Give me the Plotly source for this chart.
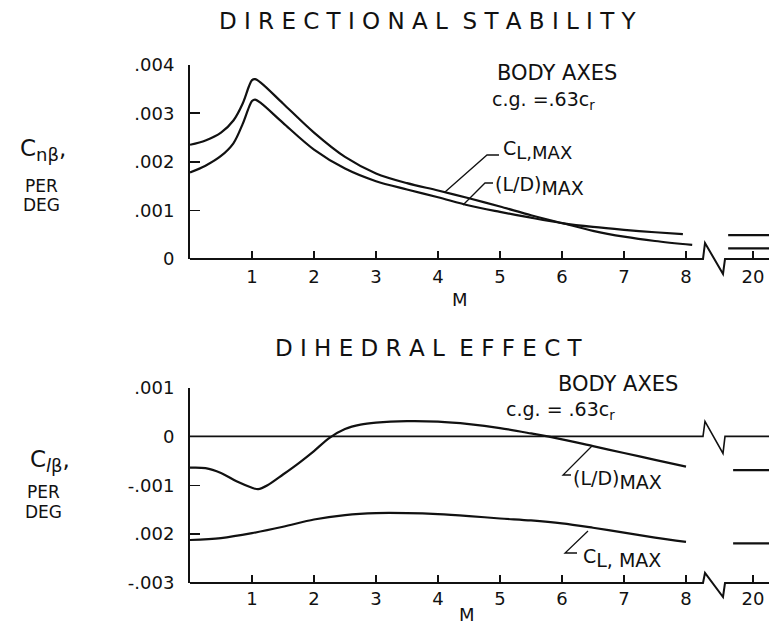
import plotly.graph_objects as go

# ---------------- data ----------------
# Top panel: directional stability, Cn_beta per deg vs Mach number
m_top_cl = [0, 0.25, 0.5, 0.7, 0.85, 0.95, 1.0, 1.05, 1.15, 1.5, 2.0, 2.5, 3.0, 3.5, 4.0, 4.5, 5.0, 5.5, 6.0, 6.5, 7.0, 7.5, 8.1]
cn_cl_max = [0.00235, 0.00244, 0.00260, 0.00285, 0.00320, 0.00355, 0.00368, 0.00370, 0.00362, 0.00320, 0.00260,
             0.00210, 0.00176, 0.00156, 0.00141, 0.00125, 0.00108, 0.00090, 0.00074, 0.00058, 0.00046, 0.00037, 0.00029]
m_top_ld = [0, 0.25, 0.5, 0.7, 0.85, 0.95, 1.0, 1.05, 1.15, 1.5, 2.0, 2.5, 3.0, 3.5, 4.0, 4.5, 5.0, 5.5, 6.0, 6.5, 7.0, 7.5, 7.95]
cn_ld_max = [0.00178, 0.00192, 0.00212, 0.00238, 0.00278, 0.00312, 0.00325, 0.00328, 0.00320, 0.00280, 0.00225,
             0.00186, 0.00160, 0.00143, 0.00127, 0.00110, 0.00097, 0.00085, 0.00074, 0.00066, 0.00060, 0.00055, 0.00051]
cn_cl_max_m20 = 0.00022
cn_ld_max_m20 = 0.00049

# Bottom panel: dihedral effect, Cl_beta per deg vs Mach number
m_bot_ld = [0, 0.25, 0.5, 0.75, 1.0, 1.1, 1.25, 1.5, 1.75, 2.0, 2.25, 2.5, 2.75, 3.0, 3.5, 4.0, 4.5, 5.0, 5.5, 6.0, 6.5, 7.0, 7.5, 8.0]
cl_ld_max = [-0.00064, -0.00065, -0.00075, -0.00092, -0.00105, -0.00108, -0.00100, -0.00078, -0.00055, -0.00030,
             -0.00003, 0.00015, 0.00024, 0.00028, 0.00031, 0.00030, 0.00025, 0.00017, 0.00006, -0.00006, -0.00020,
             -0.00034, -0.00048, -0.00062]
m_bot_cl = [0, 0.5, 1.0, 1.5, 2.0, 2.5, 3.0, 3.5, 4.0, 4.5, 5.0, 5.5, 6.0, 6.5, 7.0, 7.5, 8.0]
cl_cl_max = [-0.00212, -0.00208, -0.00198, -0.00185, -0.00170, -0.00161, -0.00157, -0.00157, -0.00159, -0.00163,
             -0.00168, -0.00172, -0.00178, -0.00187, -0.00197, -0.00207, -0.00216]
cl_ld_max_m20 = -0.00069
cl_cl_max_m20 = -0.00219

x_tick_vals = [1, 2, 3, 4, 5, 6, 7, 8]
x_tick_text = ["1", "2", "3", "4", "5", "6", "7", "8"]
m20_label = "20"
top_y_ticks = [0, 0.001, 0.002, 0.003, 0.004]
top_y_text = ["0", ".001", ".002", ".003", ".004"]
bot_y_ticks = [-0.003, -0.002, -0.001, 0, 0.001]
bot_y_text = ["-.003", ".002", "-.001", "0", ".001"]

# ---------------- layout geometry (window pixels) ----------------
W, H = 769, 630
L = 190                      # left spine
PX_PER_M = 62.0
XMAX = (W - L) / PX_PER_M
M20_POS = 9.08               # axis position where M = 20 is drawn (after the break)
BREAK_PX = 703
TOP = dict(top=64.6, bottom=259.0, rng=(0, 0.004))
BOT = dict(top=387.5, bottom=583.0, rng=(-0.003, 0.001))
FONT = "DejaVu Sans, Liberation Sans, sans-serif"
BLACK = "#111111"


def pxx(xpx):
    return xpx / W


def pxy(ypx):
    return 1 - ypx / H


def val_to_px(panel, v):
    lo, hi = panel["rng"]
    return panel["bottom"] - (v - lo) / (hi - lo) * (panel["bottom"] - panel["top"])


def spaced(s, gap=1, word_gap=2):
    return ("\u00a0" * word_gap).join(("\u00a0" * gap).join(w) for w in s.split(" "))


fig = go.Figure()
line = dict(color=BLACK, width=2.2, shape="spline", smoothing=0.9)

fig.add_trace(go.Scatter(x=m_top_cl, y=cn_cl_max, mode="lines", line=line, xaxis="x", yaxis="y", name="CL,MAX"))
fig.add_trace(go.Scatter(x=m_top_ld, y=cn_ld_max, mode="lines", line=line, xaxis="x", yaxis="y", name="(L/D)MAX"))
fig.add_trace(go.Scatter(x=m_bot_ld, y=cl_ld_max, mode="lines", line=line, xaxis="x2", yaxis="y2", name="(L/D)MAX"))
fig.add_trace(go.Scatter(x=m_bot_cl, y=cl_cl_max, mode="lines", line=line, xaxis="x2", yaxis="y2", name="CL,MAX"))

# M = 20 values drawn as short dashes after the axis break
for v in [cn_cl_max_m20, cn_ld_max_m20]:
    fig.add_trace(go.Scatter(x=[M20_POS - 0.40, XMAX], y=[v, v], mode="lines",
                             line=dict(color=BLACK, width=2.2), xaxis="x", yaxis="y"))
for v in [cl_ld_max_m20, cl_cl_max_m20]:
    fig.add_trace(go.Scatter(x=[M20_POS - 0.32, XMAX], y=[v, v], mode="lines",
                             line=dict(color=BLACK, width=2.2), xaxis="x2", yaxis="y2"))

fig.update_traces(showlegend=False, hoverinfo="skip")

xaxis_common = dict(range=[0, XMAX], domain=[pxx(L), 1], showline=False, showgrid=False, zeroline=False,
                    automargin=False, fixedrange=True,
                    ticks="inside", ticklen=8, tickwidth=1.5, tickcolor=BLACK,
                    tickvals=x_tick_vals + [M20_POS], ticktext=x_tick_text + [m20_label],
                    tickfont=dict(family=FONT, size=18, color=BLACK), ticklabeloverflow="allow")
yaxis_common = dict(showline=True, linewidth=2, linecolor=BLACK, showgrid=False, zeroline=False,
                    automargin=False, fixedrange=True,
                    ticks="inside", ticklen=10, tickwidth=1.5, tickcolor=BLACK,
                    tickfont=dict(family=FONT, size=18, color=BLACK), ticklabelstandoff=10)

fig.update_layout(
    width=W, height=H, autosize=False,
    margin=dict(l=0, r=0, t=0, b=0, pad=0, autoexpand=False),
    paper_bgcolor="white", plot_bgcolor="white",
    showlegend=False,
    xaxis=dict(anchor="y", ticklabelstandoff=5, **xaxis_common),
    xaxis2=dict(anchor="y2", ticklabelstandoff=3, **xaxis_common),
    yaxis=dict(anchor="x", domain=[pxy(TOP["bottom"]), pxy(TOP["top"])], range=list(TOP["rng"]),
               tickvals=top_y_ticks, ticktext=top_y_text, **yaxis_common),
    yaxis2=dict(anchor="x2", domain=[pxy(BOT["bottom"]), pxy(BOT["top"])], range=list(BOT["rng"]),
                tickvals=bot_y_ticks, ticktext=bot_y_text, **yaxis_common),
)

# ---------------- axis lines with break symbols ----------------
shapes = []


def break_line(y_px, up, down, width):
    pts = [(L, y_px), (BREAK_PX, y_px), (BREAK_PX + 2, y_px - up),
           (BREAK_PX + 20, y_px + down), (BREAK_PX + 22, y_px), (W + 2, y_px)]
    path = "M " + " L ".join(f"{pxx(a):.5f},{pxy(b):.5f}" for a, b in pts)
    shapes.append(dict(type="path", xref="paper", yref="paper", path=path,
                       line=dict(color=BLACK, width=width)))


break_line(val_to_px(TOP, 0), 16, 15, 2)           # top x axis
break_line(val_to_px(BOT, -0.003), 10, 14, 2)      # bottom x axis
break_line(val_to_px(BOT, 0), 15, 17, 1.6)         # bottom zero line


def leader(pts):
    path = "M " + " L ".join(f"{pxx(a):.5f},{pxy(b):.5f}" for a, b in pts)
    shapes.append(dict(type="path", xref="paper", yref="paper", path=path,
                       line=dict(color=BLACK, width=1.3)))


leader([(445, 192), (487, 155), (499, 155)])
leader([(463, 205), (485, 183), (493, 183)])
leader([(592, 446), (563, 475), (571, 475)])
leader([(588, 531), (565, 553), (577, 553)])

fig.update_layout(shapes=shapes)

# ---------------- text ----------------
ann = []


def text(x, y, s, size=18, xanchor="center"):
    ann.append(dict(x=pxx(x), y=pxy(y), xref="paper", yref="paper", text=s, showarrow=False,
                    xanchor=xanchor, yanchor="middle", font=dict(family=FONT, size=size, color=BLACK)))


text(428, 21, spaced("DIRECTIONAL STABILITY"), size=23)
text(429, 348, spaced("DIHEDRAL EFFECT"), size=23)

text(43, 150, "C<sub><span style='font-size:18px'>nβ</span></sub>,", size=23)
text(41, 185.5, "PER", size=17)
text(41, 205.5, "DEG", size=17)
text(50, 461, "C<sub><span style='font-size:18px'><i>l</i>β</span></sub>,", size=23)
text(43, 492, "PER", size=17)
text(43, 512, "DEG", size=17)

text(460, 299, "M", size=18)
text(467, 614, "M", size=18)

text(557, 73, "BODY AXES", size=21)
text(543, 101, "c.g. =.63c<sub>r</sub>", size=19)
text(618, 384, "BODY AXES", size=21)
text(560, 410, "c.g. = .63c<sub>r</sub>", size=19)

text(501, 150, "C<sub><span style='font-size:18px'>L,MAX</span></sub>", size=19, xanchor="left")
text(493, 186, "(L/D)<sub><span style='font-size:19px'>MAX</span></sub>", size=19, xanchor="left")
text(571, 480, "(L/D)<sub><span style='font-size:19px'>MAX</span></sub>", size=19, xanchor="left")
text(581, 558, "C<sub><span style='font-size:19px'>L, MAX</span></sub>", size=19, xanchor="left")

fig.update_layout(annotations=ann)

# pin the 769x630 figure to the top-left corner of the page (no default body margin)
pin = ("document.body.style.margin='0px';document.body.style.overflow='hidden';"
       "var g=document.getElementById('{plot_id}');g.style.position='fixed';"
       "g.style.left='0px';g.style.top='0px';")
fig.write_html("out.html", config={"displayModeBar": False, "staticPlot": True}, post_script=pin)
